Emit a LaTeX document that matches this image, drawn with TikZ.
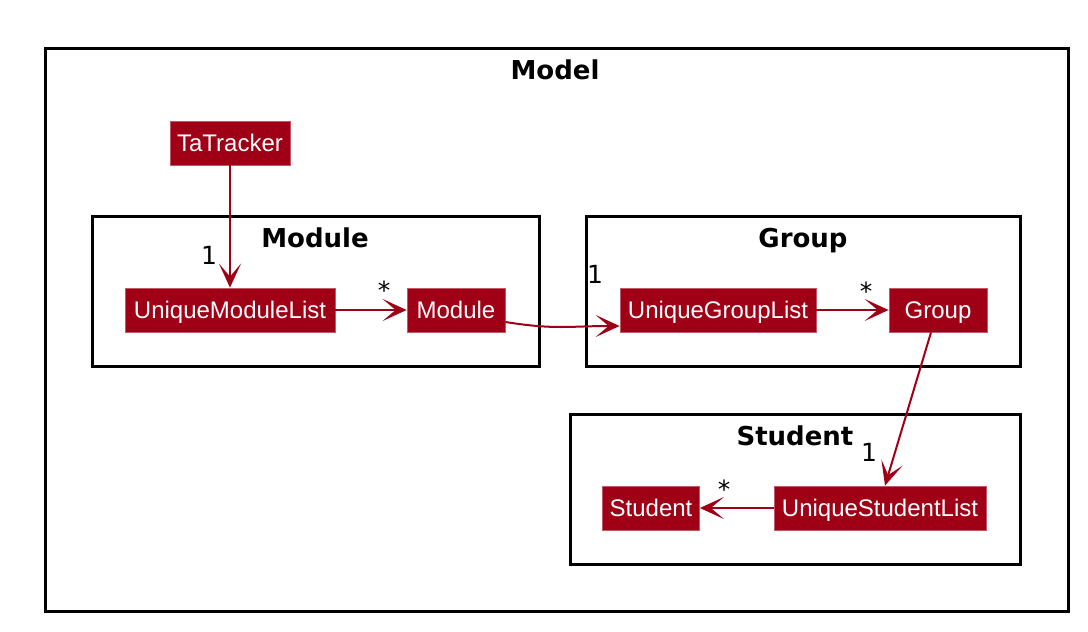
\documentclass[tikz,border=0pt]{standalone}
\usepackage{fontspec}
\setmainfont{Liberation Sans}
\newfontfamily\titlefont{DejaVu Sans}
\usetikzlibrary{arrows.meta}
\definecolor{boxred}{HTML}{A00016}
\begin{document}
\begin{tikzpicture}[x=1pt,y=-1pt,
 cls/.style={fill=boxred, draw=boxred!65!white, line width=0.8pt, text=white,
   font=\fontsize{24}{24}\selectfont, minimum height=44pt, inner xsep=5pt, inner ysep=0pt,
   text height=19pt, text depth=3pt},
 frame/.style={draw=black, line width=3pt},
 ftitle/.style={font=\titlefont\bfseries\fontsize{26}{26}\selectfont, inner sep=0pt,
   text height=19pt, text depth=6pt},
 rel/.style={draw=boxred, line width=2pt, -{Stealth[length=24pt,width=22pt,inset=13pt]}},
 mult/.style={font=\titlefont\fontsize{25}{25}\selectfont, inner sep=0pt}]
\useasboundingbox[fill=white] (0,0) rectangle (1088,632);
% frames
\draw[frame] (45,48) rectangle (1068,611);
\node[ftitle] (tmodel) at (555,73) {Model};
\draw[frame] (92,216) rectangle (539,366);
\node[ftitle] (tmodule) at (315,241) {Module};
\draw[frame] (586,216) rectangle (1020,366);
\node[ftitle] (tgroup) at (803,241) {Group};
\draw[frame] (570,414) rectangle (1020,564);
\node[ftitle] (tstudent) at (795,439) {Student};
% classes
\node[cls, minimum width=120pt] (ta) at (230,143) {TaTracker};
\node[cls, minimum width=210pt] (uml) at (230,310) {UniqueModuleList};
\node[cls, minimum width=98pt] (mod) at (456,310) {Module};
\node[cls, minimum width=196pt] (ugl) at (718,310) {UniqueGroupList};
\node[cls, minimum width=98pt] (grp) at (938,310) {Group};
\node[cls, minimum width=97pt] (stu) at (651,508) {Student};
\node[cls, minimum width=212pt] (usl) at (880,508) {UniqueStudentList};
% relations
\draw[rel] (ta) -- (uml);
\node[mult] (m1) at (209,255) {1};
\draw[rel] (uml) -- (mod);
\node[mult] (m2) at (384,290) {*};
\draw[rel] ([yshift=-12pt]mod.east) .. controls +(50,8) and +(-50,0) .. ([yshift=-16pt]ugl.west);
\node[mult] (m3) at (595,274) {1};
\draw[rel] (ugl) -- (grp);
\node[mult] (m4) at (866,291) {*};
\draw[rel] ([xshift=-7pt]grp.south) -- ([xshift=5pt]usl.north);
\node[mult] (m5) at (869,452) {1};
\draw[rel] (usl) -- (stu);
\node[mult] (m6) at (724,489) {*};
\end{tikzpicture}
\end{document}
